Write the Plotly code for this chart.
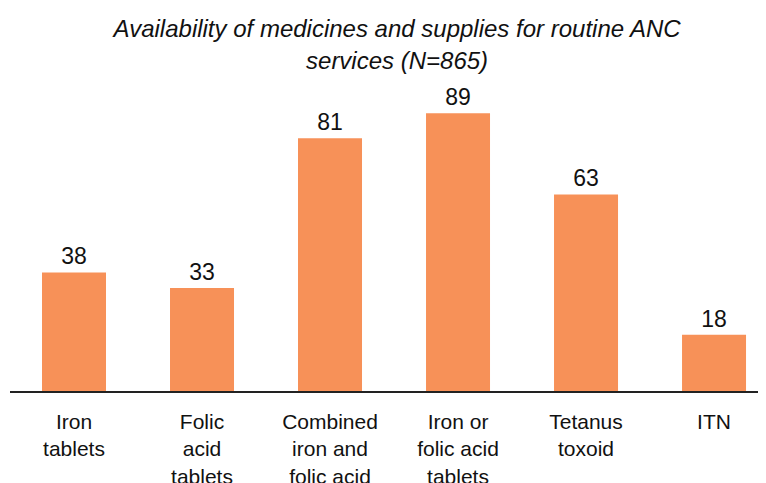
import plotly.graph_objects as go

categories = ["Iron<br>tablets", "Folic<br>acid<br>tablets", "Combined<br>iron and<br>folic acid",
              "Iron or<br>folic acid<br>tablets", "Tetanus<br>toxoid", "ITN"]
values = [38, 33, 81, 89, 63, 18]
title_text = "Availability of medicines and supplies for routine ANC<br>services (N=865)"

# page body has an 8px margin, so the figure is sized/positioned to compensate
W, H = 758, 475

fig = go.Figure(go.Bar(
    x=list(range(len(categories))), y=values,
    marker=dict(color="#F79158", line=dict(width=0)),
    width=0.5,
    text=[str(v) for v in values], textposition="outside",
    textfont=dict(family="Liberation Sans, Arial", size=23, color="#111111"),
    cliponaxis=False,
))

fig.update_layout(
    width=W, height=H,
    margin=dict(l=2, r=0, t=71, b=92, autoexpand=False),
    paper_bgcolor="white", plot_bgcolor="white",
    showlegend=False,
    title=dict(text=title_text, x=0.512, xanchor="center", xref="paper",
               y=0.938, yanchor="top", yref="container",
               font=dict(family="Liberation Sans, Arial", size=24, color="#111111", style="italic")),
    xaxis=dict(tickmode="array", tickvals=list(range(len(categories))), ticktext=categories,
               range=[-0.5, 5.406], showline=True, linecolor="#222222", linewidth=1.5,
               ticks="", showgrid=False, zeroline=False, automargin=False,
               ticklabelstandoff=11,
               tickfont=dict(family="Liberation Sans, Arial", size=21, color="#111111")),
    yaxis=dict(range=[0, 100], visible=False, showgrid=False, zeroline=False),
)

fig.write_html("out.html")
